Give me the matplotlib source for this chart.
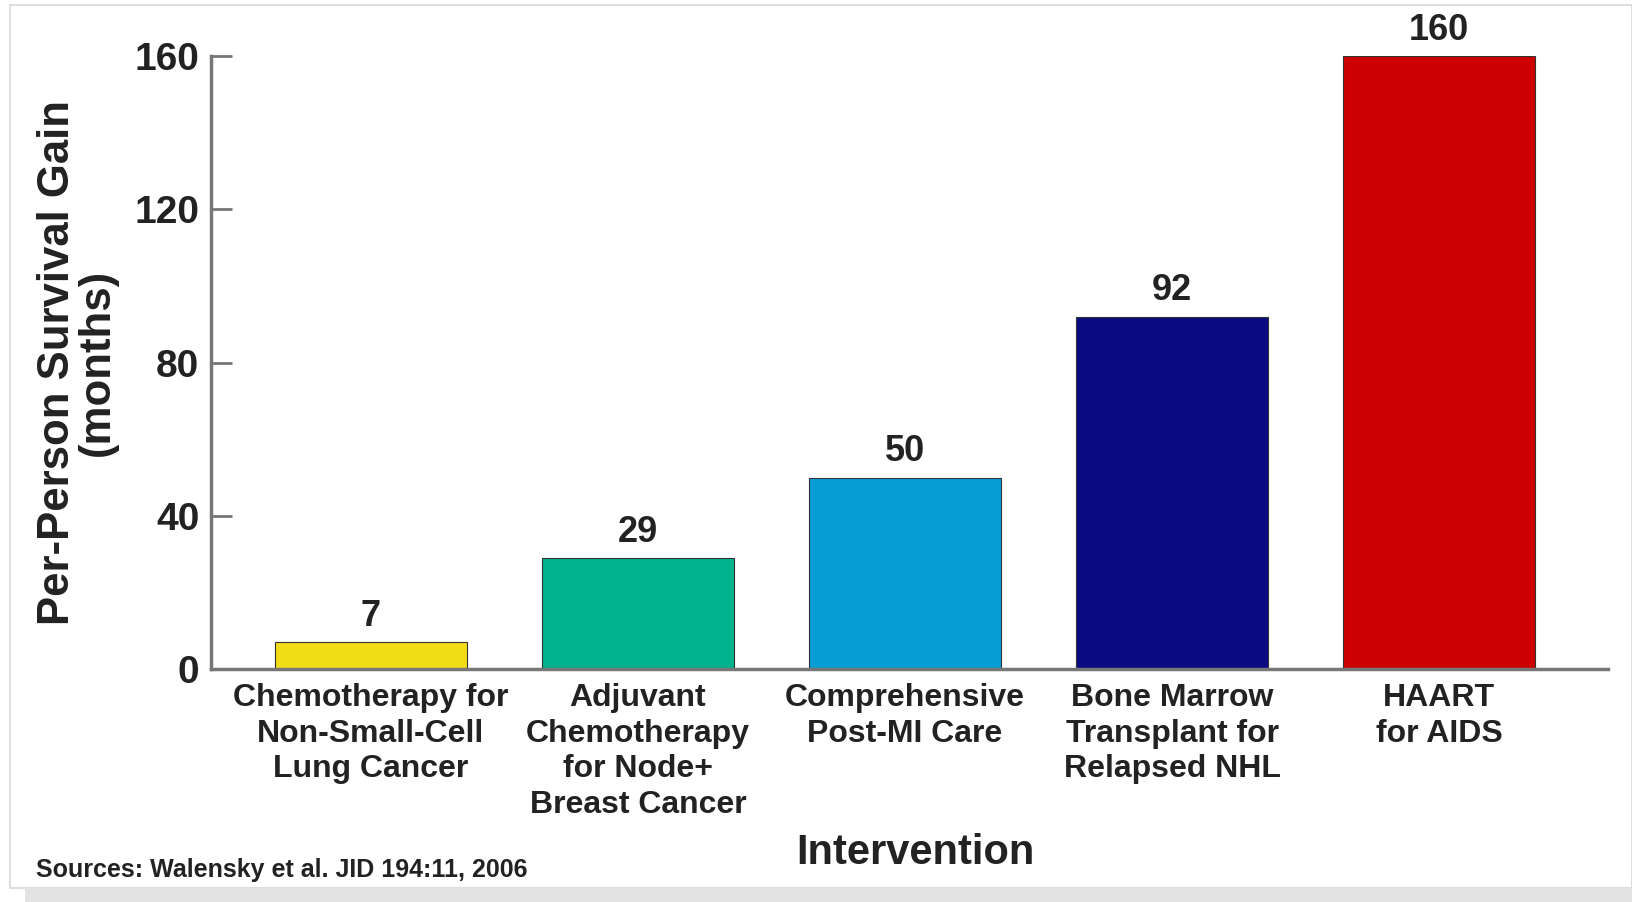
import matplotlib.pyplot as plt
from matplotlib.patches import Rectangle

# data
interventions = ["Chemotherapy for\nNon-Small-Cell\nLung Cancer",
                 "Adjuvant\nChemotherapy\nfor Node+\nBreast Cancer",
                 "Comprehensive\nPost-MI Care",
                 "Bone Marrow\nTransplant for\nRelapsed NHL",
                 "HAART\nfor AIDS"]
gain_months = [7, 29, 50, 92, 160]
bar_colors = ["#f2dc16", "#00b28e", "#059fd6", "#0a0a82", "#cc0000"]
yticks = [0, 40, 80, 120, 160]

plt.rcParams['font.family'] = ['Liberation Sans', 'DejaVu Sans']
plt.rcParams['font.weight'] = 'bold'

fig = plt.figure(figsize=(16.32, 9.02), dpi=100)
# page frame + grey strip at the bottom
fig.patches.append(Rectangle((10/1632, 14/902), 1 - 10/1632, 1 - 19/902, transform=fig.transFigure,
                             facecolor='white', edgecolor='#d8d8d8', lw=1.2, zorder=-2))
fig.patches.append(Rectangle((25/1632, 0), 1, 14/902, transform=fig.transFigure,
                             facecolor='#e3e3e3', edgecolor='none', zorder=-1))

ax = fig.add_axes([0.129, 0.258, 0.856, 0.680])
ax.patch.set_alpha(0)
x = range(len(gain_months))
bars = ax.bar(x, gain_months, width=0.72, color=bar_colors, edgecolor='#333333', linewidth=0.8, zorder=2)
for xi, v in zip(x, gain_months):
    ax.annotate(str(v), (xi, v), xytext=(0, 6), textcoords='offset points',
                ha='center', va='bottom', fontsize=26, fontweight='bold', color='#222222')

ax.set_xlim(-0.6, 4.63)
ax.set_ylim(0, 160)
ax.set_yticks(yticks)
ax.set_yticklabels([str(t) for t in yticks], fontsize=28, fontweight='bold', color='#222222')
ax.set_xticks(list(x))
ax.set_xticklabels(interventions, fontsize=23, fontweight='bold', color='#222222', linespacing=1.24)
ax.tick_params(axis='x', length=0, pad=10)
ax.tick_params(axis='y', direction='in', length=15, width=2, color='#777777', pad=8)
for s in ['top', 'right']:
    ax.spines[s].set_visible(False)
for s in ['left', 'bottom']:
    ax.spines[s].set_color('#777777')
    ax.spines[s].set_linewidth(2.5)

ax.set_ylabel("Per-Person Survival Gain\n(months)", fontsize=31.5, fontweight='bold',
              color='#222222', linespacing=0.95, labelpad=12)
fig.text(0.561, 0.054, "Intervention", ha='center', va='center', fontsize=30, fontweight='bold', color='#222222')
fig.text(0.022, 0.035, "Sources: Walensky et al. JID 194:11, 2006", ha='left', va='center',
         fontsize=18, fontweight='bold', color='#222222')

fig.savefig("out.png", dpi=100)
